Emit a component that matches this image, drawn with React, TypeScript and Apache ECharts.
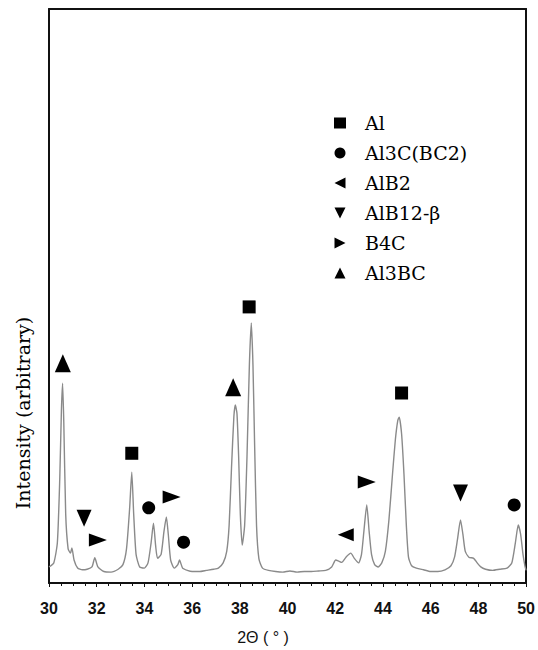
import React, { useEffect, useRef } from "react";
import * as echarts from "echarts";

// 2θ positions (deg) and intensity (arbitrary units) of the XRD pattern
const twoTheta = [
  30.0, 30.2, 30.35, 30.45, 30.52, 30.57, 30.62, 30.7, 30.8, 30.9, 30.96, 31.05, 31.2, 31.4, 31.6, 31.8,
  31.92, 32.05, 32.3, 32.6, 32.9, 33.1, 33.25, 33.38, 33.47, 33.55, 33.65, 33.8, 34.0, 34.15, 34.28, 34.38,
  34.47, 34.55, 34.7, 34.82, 34.92, 35.0, 35.1, 35.25, 35.4, 35.47, 35.6, 35.8, 36.0, 36.3, 36.6, 36.9,
  37.1, 37.3, 37.45, 37.55, 37.65, 37.75, 37.81, 37.88, 37.95, 38.02, 38.1, 38.2, 38.3, 38.4, 38.48, 38.55,
  38.62, 38.7, 38.8, 38.95, 39.2, 39.5, 39.8, 40.1, 40.4, 40.7, 41.0, 41.3, 41.6, 41.85, 42.02, 42.15,
  42.27, 42.45, 42.65, 42.8, 42.98, 43.1, 43.2, 43.32, 43.42, 43.52, 43.65, 43.8, 43.95, 44.1, 44.25, 44.4,
  44.52, 44.62, 44.68, 44.78, 44.88, 44.98, 45.07, 45.2, 45.4, 45.7, 46.0, 46.3, 46.6, 46.85, 47.0, 47.12,
  47.25, 47.35, 47.45, 47.6, 47.8, 47.95, 48.1, 48.3, 48.6, 48.9, 49.2, 49.4, 49.55, 49.67, 49.77, 49.87,
  49.95, 50.0,
];
const intensity = [
  2.8, 3.5, 7, 18, 30, 34.8, 28, 12, 6, 5.2, 6.1, 4.0, 2.6, 2.3, 2.4, 2.8,
  4.4, 2.8, 2.0, 1.9, 2.4, 3.2, 6, 13, 19.3, 12, 5, 2.8, 2.6, 3.5, 7, 10.4,
  6.5, 4.3, 5, 9, 11.5, 8.5, 4, 2.6, 3.2, 4.0, 2.6, 2.2, 2.0, 2.0, 2.2, 2.4,
  2.6, 3.5, 5.5, 10, 20, 29, 31.0, 29.5, 22, 12, 6.6, 10, 22, 38, 45.3, 38,
  24, 10, 4.2, 2.6, 2.2, 2.0, 1.9, 2.1, 1.9, 2.0, 2.0, 2.1, 2.2, 2.8, 4.0, 3.8,
  3.6, 4.5, 5.2, 4.3, 3.5, 5, 9, 13.6, 9, 5, 3.2, 2.8, 3.5, 5.5, 11, 19,
  25, 28.3, 28.9, 26, 19, 10, 4.5, 3.0, 2.6, 2.3, 2.0, 2.0, 2.3, 3.0, 4.5, 7.5,
  11.0, 8.5, 5.5, 4.5, 4.3, 3.5, 2.8, 2.4, 2.2, 2.4, 2.6, 3.5, 7, 10.1, 8.5, 5,
  3, 2.2,
];

// Phase markers [2θ, marker height]
const alMarks = [[33.47, 22.6], [38.39, 48.1], [44.78, 33.1]];
const al3cMarks = [[34.18, 13.1], [35.64, 7.1], [49.5, 13.6]];
const alb2Marks = [[42.44, 8.4]];
const alb12Marks = [[31.47, 11.3], [47.25, 15.7]];
const b4cMarks = [[32.05, 7.5], [35.14, 15.0], [43.32, 17.6]];
const al3bcMarks = [[30.58, 38.3], [37.72, 34.1]];

const phaseNames = ["Al", "Al3C(BC2)", "AlB2", "AlB12-β", "B4C", "Al3BC"];
const xTicks = [30, 32, 34, 36, 38, 40, 42, 44, 46, 48, 50];

const LEFT_TRI = "path://M10,0L10,10L0,5Z";
const DOWN_TRI = "path://M0,0L10,0L5,10Z";
const RIGHT_TRI = "path://M0,0L10,5L0,10Z";
const UP_TRI = "path://M5,0L10,10L0,10Z";

export default function App() {
  const ref = useRef<HTMLDivElement>(null);
  useEffect(() => {
    document.body.style.margin = "0";
    const chart = echarts.init(ref.current!, undefined, { renderer: "svg" });
    const line = twoTheta.map((x, i) => [x, intensity[i]]);
    const marker = (name: string, data: number[][], symbol: string, size: any) => ({
      name,
      type: "scatter",
      data,
      symbol,
      symbolSize: size,
      symbolKeepAspect: false,
      itemStyle: { color: "#000", opacity: 1 },
      z: 5,
    });
    const frameLine = { show: true, onZero: false, lineStyle: { color: "#111", width: 2 } };
    chart.setOption({
      animation: false,
      backgroundColor: "#fff",
      grid: { left: 49, right: 10, top: 9, bottom: 67 },
      legend: {
        data: phaseNames,
        orient: "vertical",
        left: 329,
        top: 108,
        itemWidth: 12,
        itemHeight: 11,
        itemGap: 10,
        itemStyle: { opacity: 1, color: "#000" },
        textStyle: {
          fontFamily: "DejaVu Serif",
          fontSize: 19,
          lineHeight: 20,
          color: "#000",
          padding: [0, 0, 0, 14],
        },
      },
      xAxis: [
        {
          type: "value",
          min: 30,
          max: 50,
          interval: 2,
          axisLine: frameLine,
          axisTick: { show: true, inside: false, length: 4, lineStyle: { color: "#111" } },
          minorTick: { show: true, splitNumber: 4, length: 3, lineStyle: { color: "#111" } },
          splitLine: { show: false },
          axisLabel: {
            color: "#111",
            fontFamily: "Liberation Sans",
            fontWeight: "bold",
            fontSize: 16,
            margin: 17,
            formatter: (v: number) => (xTicks.includes(v) ? String(v) : ""),
          },
        },
        {
          type: "value",
          position: "top",
          min: 30,
          max: 50,
          axisLine: frameLine,
          axisTick: { show: false },
          axisLabel: { show: false },
          splitLine: { show: false },
        },
      ],
      yAxis: [
        {
          type: "value",
          min: 0,
          max: 100,
          axisLine: frameLine,
          axisTick: { show: false },
          axisLabel: { show: false },
          splitLine: { show: false },
        },
        {
          type: "value",
          position: "right",
          min: 0,
          max: 100,
          axisLine: frameLine,
          axisTick: { show: false },
          axisLabel: { show: false },
          splitLine: { show: false },
        },
      ],
      graphic: [
        {
          type: "text",
          x: 23,
          y: 413,
          rotation: Math.PI / 2,
          style: {
            text: "Intensity (arbitrary)",
            font: "19px 'DejaVu Serif'",
            fill: "#000",
            align: "center",
            verticalAlign: "middle",
          },
        },
        {
          type: "text",
          x: 263,
          y: 637,
          style: {
            text: "2Θ ( ° )",
            font: "16px 'Liberation Sans'",
            fill: "#111",
            align: "center",
            verticalAlign: "middle",
          },
        },
      ],
      series: [
        {
          name: "pattern",
          type: "line",
          data: line,
          showSymbol: false,
          smooth: 0.2,
          lineStyle: { color: "#8a8a8a", width: 1.4 },
          z: 2,
        },
        marker("Al", alMarks, "rect", 13),
        marker("Al3C(BC2)", al3cMarks, "circle", 13),
        marker("AlB2", alb2Marks, LEFT_TRI, [16, 13]),
        marker("AlB12-β", alb12Marks, DOWN_TRI, [15, 17]),
        marker("B4C", b4cMarks, RIGHT_TRI, [18, 13]),
        marker("Al3BC", al3bcMarks, UP_TRI, [16, 18]),
      ],
    });
    return () => chart.dispose();
  }, []);
  return <div ref={ref} style={{ width: 538, height: 650 }} />;
}
